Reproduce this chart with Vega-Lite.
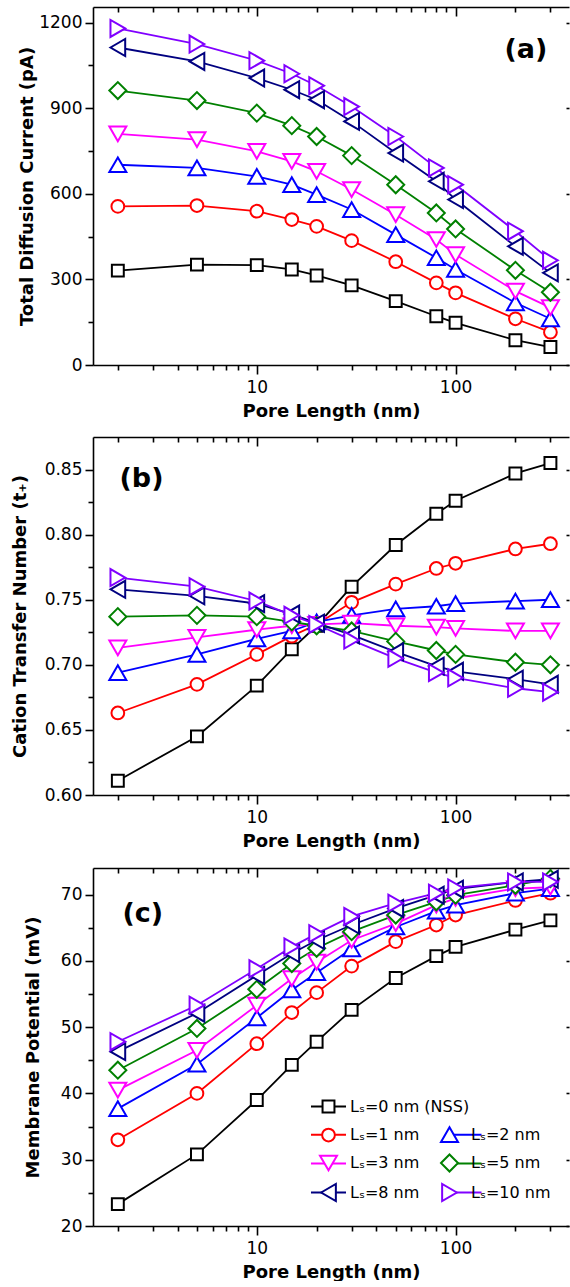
{
  "$schema": "https://vega.github.io/schema/vega-lite/v6.json",
  "background": "white",
  "padding": {"left": 11, "top": 6, "right": 0, "bottom": 0},
  "spacing": 16,
  "data": {"values": [
    {"series":"Lₛ=0 nm (NSS)","L":2,"a":331,"b":0.611,"c":23.3},
    {"series":"Lₛ=0 nm (NSS)","L":5,"a":352,"b":0.645,"c":30.8},
    {"series":"Lₛ=0 nm (NSS)","L":10,"a":350,"b":0.684,"c":39.0},
    {"series":"Lₛ=0 nm (NSS)","L":15,"a":335,"b":0.712,"c":44.3},
    {"series":"Lₛ=0 nm (NSS)","L":20,"a":314,"b":0.730,"c":47.8},
    {"series":"Lₛ=0 nm (NSS)","L":30,"a":279,"b":0.760,"c":52.6},
    {"series":"Lₛ=0 nm (NSS)","L":50,"a":224,"b":0.792,"c":57.4},
    {"series":"Lₛ=0 nm (NSS)","L":80,"a":171,"b":0.816,"c":60.7},
    {"series":"Lₛ=0 nm (NSS)","L":100,"a":148,"b":0.826,"c":62.1},
    {"series":"Lₛ=0 nm (NSS)","L":200,"a":87,"b":0.847,"c":64.7},
    {"series":"Lₛ=0 nm (NSS)","L":300,"a":63,"b":0.855,"c":66.1},
    {"series":"Lₛ=1 nm","L":2,"a":556,"b":0.663,"c":33.0},
    {"series":"Lₛ=1 nm","L":5,"a":559,"b":0.685,"c":40.0},
    {"series":"Lₛ=1 nm","L":10,"a":539,"b":0.708,"c":47.5},
    {"series":"Lₛ=1 nm","L":15,"a":510,"b":0.722,"c":52.2},
    {"series":"Lₛ=1 nm","L":20,"a":486,"b":0.731,"c":55.2},
    {"series":"Lₛ=1 nm","L":30,"a":436,"b":0.748,"c":59.2},
    {"series":"Lₛ=1 nm","L":50,"a":362,"b":0.762,"c":62.9},
    {"series":"Lₛ=1 nm","L":80,"a":288,"b":0.774,"c":65.4},
    {"series":"Lₛ=1 nm","L":100,"a":253,"b":0.778,"c":66.9},
    {"series":"Lₛ=1 nm","L":200,"a":162,"b":0.789,"c":69.1},
    {"series":"Lₛ=1 nm","L":300,"a":115,"b":0.793,"c":70.2},
    {"series":"Lₛ=2 nm","L":2,"a":702,"b":0.694,"c":37.7},
    {"series":"Lₛ=2 nm","L":5,"a":691,"b":0.708,"c":44.4},
    {"series":"Lₛ=2 nm","L":10,"a":661,"b":0.720,"c":51.4},
    {"series":"Lₛ=2 nm","L":15,"a":632,"b":0.726,"c":55.6},
    {"series":"Lₛ=2 nm","L":20,"a":597,"b":0.733,"c":58.2},
    {"series":"Lₛ=2 nm","L":30,"a":545,"b":0.738,"c":61.8},
    {"series":"Lₛ=2 nm","L":50,"a":457,"b":0.743,"c":65.1},
    {"series":"Lₛ=2 nm","L":80,"a":376,"b":0.745,"c":67.5},
    {"series":"Lₛ=2 nm","L":100,"a":335,"b":0.747,"c":68.4},
    {"series":"Lₛ=2 nm","L":200,"a":218,"b":0.749,"c":70.2},
    {"series":"Lₛ=2 nm","L":300,"a":162,"b":0.750,"c":70.9},
    {"series":"Lₛ=3 nm","L":2,"a":810,"b":0.713,"c":40.5},
    {"series":"Lₛ=3 nm","L":5,"a":790,"b":0.721,"c":46.5},
    {"series":"Lₛ=3 nm","L":10,"a":749,"b":0.727,"c":53.3},
    {"series":"Lₛ=3 nm","L":15,"a":714,"b":0.730,"c":57.3},
    {"series":"Lₛ=3 nm","L":20,"a":679,"b":0.731,"c":59.8},
    {"series":"Lₛ=3 nm","L":30,"a":615,"b":0.732,"c":63.1},
    {"series":"Lₛ=3 nm","L":50,"a":527,"b":0.730,"c":65.6},
    {"series":"Lₛ=3 nm","L":80,"a":440,"b":0.729,"c":68.4},
    {"series":"Lₛ=3 nm","L":100,"a":387,"b":0.728,"c":69.4},
    {"series":"Lₛ=3 nm","L":200,"a":259,"b":0.726,"c":70.9},
    {"series":"Lₛ=3 nm","L":300,"a":201,"b":0.726,"c":71.1},
    {"series":"Lₛ=5 nm","L":2,"a":962,"b":0.737,"c":43.5},
    {"series":"Lₛ=5 nm","L":5,"a":927,"b":0.738,"c":49.8},
    {"series":"Lₛ=5 nm","L":10,"a":883,"b":0.737,"c":55.7},
    {"series":"Lₛ=5 nm","L":15,"a":839,"b":0.733,"c":59.6},
    {"series":"Lₛ=5 nm","L":20,"a":801,"b":0.730,"c":61.9},
    {"series":"Lₛ=5 nm","L":30,"a":734,"b":0.726,"c":64.4},
    {"series":"Lₛ=5 nm","L":50,"a":632,"b":0.718,"c":66.9},
    {"series":"Lₛ=5 nm","L":80,"a":533,"b":0.711,"c":68.9},
    {"series":"Lₛ=5 nm","L":100,"a":477,"b":0.708,"c":69.9},
    {"series":"Lₛ=5 nm","L":200,"a":332,"b":0.702,"c":71.4},
    {"series":"Lₛ=5 nm","L":300,"a":255,"b":0.700,"c":72.4},
    {"series":"Lₛ=8 nm","L":2,"a":1113,"b":0.758,"c":46.3},
    {"series":"Lₛ=8 nm","L":5,"a":1064,"b":0.753,"c":52.1},
    {"series":"Lₛ=8 nm","L":10,"a":1006,"b":0.747,"c":57.8},
    {"series":"Lₛ=8 nm","L":15,"a":965,"b":0.739,"c":61.1},
    {"series":"Lₛ=8 nm","L":20,"a":930,"b":0.732,"c":63.1},
    {"series":"Lₛ=8 nm","L":30,"a":854,"b":0.723,"c":65.4},
    {"series":"Lₛ=8 nm","L":50,"a":743,"b":0.710,"c":67.9},
    {"series":"Lₛ=8 nm","L":80,"a":644,"b":0.699,"c":69.9},
    {"series":"Lₛ=8 nm","L":100,"a":580,"b":0.695,"c":70.8},
    {"series":"Lₛ=8 nm","L":200,"a":416,"b":0.689,"c":71.9},
    {"series":"Lₛ=8 nm","L":300,"a":323,"b":0.685,"c":72.3},
    {"series":"Lₛ=10 nm","L":2,"a":1180,"b":0.767,"c":47.8},
    {"series":"Lₛ=10 nm","L":5,"a":1125,"b":0.760,"c":53.3},
    {"series":"Lₛ=10 nm","L":10,"a":1067,"b":0.749,"c":58.8},
    {"series":"Lₛ=10 nm","L":15,"a":1021,"b":0.738,"c":62.1},
    {"series":"Lₛ=10 nm","L":20,"a":979,"b":0.731,"c":64.1},
    {"series":"Lₛ=10 nm","L":30,"a":906,"b":0.719,"c":66.7},
    {"series":"Lₛ=10 nm","L":50,"a":801,"b":0.705,"c":68.7},
    {"series":"Lₛ=10 nm","L":80,"a":691,"b":0.694,"c":70.2},
    {"series":"Lₛ=10 nm","L":100,"a":632,"b":0.690,"c":71.0},
    {"series":"Lₛ=10 nm","L":200,"a":469,"b":0.682,"c":71.9},
    {"series":"Lₛ=10 nm","L":300,"a":367,"b":0.679,"c":71.9}
  ]},
  "vconcat": [
    {
      "width": 476, "height": 358,
      "layer": [
        {
          "mark": {"type": "line", "strokeWidth": 1.8},
          "encoding": {
            "x": {"field": "L", "type": "quantitative", "scale": {"type": "log", "domain": [1.5, 372], "nice": false},
              "axis": {"values": [2,3,4,5,6,7,8,9,10,20,30,40,50,60,70,80,90,100,200,300], "labelExpr": "datum.value == 10 || datum.value == 100 ? format(datum.value, 'd') : ''", "tickSize": {"condition": {"test": "datum.value == 10 || datum.value == 100", "value": 9}, "value": 5}, "labelPadding": 5, "title": "Pore Length (nm)", "titlePadding": 7}},
            "y": {"field": "a", "type": "quantitative", "scale": {"domain": [0, 1255], "nice": false, "zero": false},
              "axis": {"values": [0,150,300,450,600,750,900,1050,1200], "format": "d", "labelExpr": "datum.value % 300 == 0 ? datum.label : ''", "tickSize": {"condition": {"test": "datum.value % 300 == 0", "value": 8}, "value": 5}, "title": "Total Diffusion Current (pA)", "titlePadding": 2}},
            "color": {"field": "series", "type": "nominal", "scale": {"domain": ["Lₛ=0 nm (NSS)","Lₛ=1 nm","Lₛ=2 nm","Lₛ=3 nm","Lₛ=5 nm","Lₛ=8 nm","Lₛ=10 nm"], "range": ["#000000","#FF0000","#0000FF","#FF00FF","#008000","#000080","#8000FF"]}, "legend": null}
          }
        },
        {
          "mark": {"type": "point", "filled": true, "fill": "white", "strokeWidth": 2, "size": 289, "opacity": 1},
          "encoding": {
            "x": {"field": "L", "type": "quantitative", "scale": {"type": "log", "domain": [1.5, 372], "nice": false},
              "axis": {"orient": "top", "values": [2,3,4,5,6,7,8,9,10,20,30,40,50,60,70,80,90,100,200,300], "labels": false, "title": null, "tickSize": {"condition": {"test": "datum.value == 10 || datum.value == 100", "value": -9}, "value": -5}}},
            "y": {"field": "a", "type": "quantitative", "scale": {"domain": [0, 1255], "nice": false, "zero": false},
              "axis": {"orient": "right", "values": [0,300,600,900,1200], "labels": false, "domain": false, "title": null, "tickSize": -3}},
            "stroke": {"field": "series", "type": "nominal", "scale": {"domain": ["Lₛ=0 nm (NSS)","Lₛ=1 nm","Lₛ=2 nm","Lₛ=3 nm","Lₛ=5 nm","Lₛ=8 nm","Lₛ=10 nm"], "range": ["#000000","#FF0000","#0000FF","#FF00FF","#008000","#000080","#8000FF"]}, "legend": null},
            "shape": {"field": "series", "type": "nominal", "scale": {"domain": ["Lₛ=0 nm (NSS)","Lₛ=1 nm","Lₛ=2 nm","Lₛ=3 nm","Lₛ=5 nm","Lₛ=8 nm","Lₛ=10 nm"], "range": ["M-0.7,-0.7H0.7V0.7H-0.7Z","M-0.75,0A0.75,0.75,0,1,1,0.75,0A0.75,0.75,0,1,1,-0.75,0Z","triangle-up","triangle-down","diamond","triangle-left","triangle-right"]}, "legend": null}
          }
        },
        {
          "data": {"values": [{"t": "(a)"}]},
          "mark": {"type": "text", "font": "DejaVu Sans", "fontWeight": "bold", "fontSize": 27, "align": "center", "baseline": "middle", "color": "#000"},
          "encoding": {
            "x": {"datum": 226, "type": "quantitative", "scale": {"type": "log", "domain": [1.5, 372], "nice": false}, "axis": null},
            "y": {"datum": 1105, "type": "quantitative", "scale": {"domain": [0, 1255], "nice": false, "zero": false}, "axis": null},
            "text": {"field": "t"}
          }
        }
      ],
      "resolve": {"axis": {"x": "independent", "y": "independent"}}
    },
    {
      "width": 476, "height": 358,
      "layer": [
        {
          "mark": {"type": "line", "strokeWidth": 1.8},
          "encoding": {
            "x": {"field": "L", "type": "quantitative", "scale": {"type": "log", "domain": [1.5, 372], "nice": false},
              "axis": {"values": [2,3,4,5,6,7,8,9,10,20,30,40,50,60,70,80,90,100,200,300], "labelExpr": "datum.value == 10 || datum.value == 100 ? format(datum.value, 'd') : ''", "tickSize": {"condition": {"test": "datum.value == 10 || datum.value == 100", "value": 9}, "value": 5}, "labelPadding": 5, "title": "Pore Length (nm)", "titlePadding": 7}},
            "y": {"field": "b", "type": "quantitative", "scale": {"domain": [0.6, 0.875], "nice": false, "zero": false},
              "axis": {"values": [0.6,0.625,0.65,0.675,0.7,0.725,0.75,0.775,0.8,0.825,0.85], "format": ".2f", "labelExpr": "round(datum.value*1000) % 50 == 0 ? datum.label : ''", "tickSize": {"condition": {"test": "round(datum.value*1000) % 50 == 0", "value": 8}, "value": 5}, "title": "Cation Transfer Number (t₊)", "titlePadding": 15}},
            "color": {"field": "series", "type": "nominal", "scale": {"domain": ["Lₛ=0 nm (NSS)","Lₛ=1 nm","Lₛ=2 nm","Lₛ=3 nm","Lₛ=5 nm","Lₛ=8 nm","Lₛ=10 nm"], "range": ["#000000","#FF0000","#0000FF","#FF00FF","#008000","#000080","#8000FF"]}, "legend": null}
          }
        },
        {
          "mark": {"type": "point", "filled": true, "fill": "white", "strokeWidth": 2, "size": 289, "opacity": 1},
          "encoding": {
            "x": {"field": "L", "type": "quantitative", "scale": {"type": "log", "domain": [1.5, 372], "nice": false},
              "axis": {"orient": "top", "values": [2,3,4,5,6,7,8,9,10,20,30,40,50,60,70,80,90,100,200,300], "labels": false, "title": null, "tickSize": {"condition": {"test": "datum.value == 10 || datum.value == 100", "value": -9}, "value": -5}}},
            "y": {"field": "b", "type": "quantitative", "scale": {"domain": [0.6, 0.875], "nice": false, "zero": false},
              "axis": {"orient": "right", "values": [0.6,0.65,0.7,0.75,0.8,0.85], "labels": false, "domain": false, "title": null, "tickSize": -3}},
            "stroke": {"field": "series", "type": "nominal", "scale": {"domain": ["Lₛ=0 nm (NSS)","Lₛ=1 nm","Lₛ=2 nm","Lₛ=3 nm","Lₛ=5 nm","Lₛ=8 nm","Lₛ=10 nm"], "range": ["#000000","#FF0000","#0000FF","#FF00FF","#008000","#000080","#8000FF"]}, "legend": null},
            "shape": {"field": "series", "type": "nominal", "scale": {"domain": ["Lₛ=0 nm (NSS)","Lₛ=1 nm","Lₛ=2 nm","Lₛ=3 nm","Lₛ=5 nm","Lₛ=8 nm","Lₛ=10 nm"], "range": ["M-0.7,-0.7H0.7V0.7H-0.7Z","M-0.75,0A0.75,0.75,0,1,1,0.75,0A0.75,0.75,0,1,1,-0.75,0Z","triangle-up","triangle-down","diamond","triangle-left","triangle-right"]}, "legend": null}
          }
        },
        {
          "data": {"values": [{"t": "(b)"}]},
          "mark": {"type": "text", "font": "DejaVu Sans", "fontWeight": "bold", "fontSize": 27, "align": "center", "baseline": "middle", "color": "#000"},
          "encoding": {
            "x": {"datum": 2.63, "type": "quantitative", "scale": {"type": "log", "domain": [1.5, 372], "nice": false}, "axis": null},
            "y": {"datum": 0.8428, "type": "quantitative", "scale": {"domain": [0.6, 0.875], "nice": false, "zero": false}, "axis": null},
            "text": {"field": "t"}
          }
        }
      ],
      "resolve": {"axis": {"x": "independent", "y": "independent"}}
    },
    {
      "width": 476, "height": 358,
      "layer": [
        {
          "transform": [{"filter": {"field": "series", "equal": "Lₛ=0 nm (NSS)"}}],
          "mark": {"type": "line", "strokeWidth": 1.8},
          "encoding": {
            "x": {"field": "L", "type": "quantitative", "scale": {"type": "log", "domain": [1.5, 372], "nice": false}, "axis": null},
            "y": {"field": "c", "type": "quantitative", "scale": {"domain": [20, 74], "nice": false, "zero": false}, "axis": null},
            "color": {"field": "series", "type": "nominal", "scale": {"domain": ["Lₛ=0 nm (NSS)"], "range": ["#000000"]},
              "legend": {"orient": "none", "legendX": 226, "legendY": 229, "title": null, "padding": 0, "labelFontSize": 16, "labelExpr": "''", "labelOffset": 12, "symbolType": "M-2.06,0H2.06", "symbolSize": 289, "symbolStrokeWidth": 2}}
          }
        },
        {
          "transform": [{"filter": {"not": {"field": "series", "equal": "Lₛ=0 nm (NSS)"}}}],
          "mark": {"type": "line", "strokeWidth": 1.8},
          "encoding": {
            "x": {"field": "L", "type": "quantitative", "scale": {"type": "log", "domain": [1.5, 372], "nice": false},
              "axis": {"values": [2,3,4,5,6,7,8,9,10,20,30,40,50,60,70,80,90,100,200,300], "labelExpr": "datum.value == 10 || datum.value == 100 ? format(datum.value, 'd') : ''", "tickSize": {"condition": {"test": "datum.value == 10 || datum.value == 100", "value": 9}, "value": 5}, "labelPadding": 5, "title": "Pore Length (nm)", "titlePadding": 7}},
            "y": {"field": "c", "type": "quantitative", "scale": {"domain": [20, 74], "nice": false, "zero": false},
              "axis": {"values": [20,25,30,35,40,45,50,55,60,65,70], "format": "d", "labelExpr": "datum.value % 10 == 0 ? datum.label : ''", "tickSize": {"condition": {"test": "datum.value % 10 == 0", "value": 8}, "value": 5}, "title": "Membrane Potential (mV)", "titlePadding": 18}},
            "color": {"field": "series", "type": "nominal", "scale": {"domain": ["Lₛ=1 nm","Lₛ=2 nm","Lₛ=3 nm","Lₛ=5 nm","Lₛ=8 nm","Lₛ=10 nm"], "range": ["#FF0000","#0000FF","#FF00FF","#008000","#000080","#8000FF"]},
              "legend": {"orient": "none", "direction": "horizontal", "legendX": 226, "legendY": 257, "title": null, "padding": 0, "columns": 2, "columnPadding": 90.5, "rowPadding": 11, "labelFontSize": 16, "labelExpr": "''", "labelOffset": 12, "symbolType": "M-2.06,0H2.06", "symbolSize": 289, "symbolStrokeWidth": 2}}
          }
        },
        {
          "transform": [{"filter": {"field": "series", "equal": "Lₛ=0 nm (NSS)"}}],
          "mark": {"type": "point", "filled": true, "fill": "white", "strokeWidth": 2, "size": 289, "opacity": 1},
          "encoding": {
            "x": {"field": "L", "type": "quantitative", "scale": {"type": "log", "domain": [1.5, 372], "nice": false}, "axis": null},
            "y": {"field": "c", "type": "quantitative", "scale": {"domain": [20, 74], "nice": false, "zero": false}, "axis": null},
            "stroke": {"field": "series", "type": "nominal", "scale": {"domain": ["Lₛ=0 nm (NSS)"], "range": ["#000000"]},
              "legend": {"orient": "none", "legendX": 226, "legendY": 229, "title": null, "padding": 0, "labelFontSize": 16, "labelColor": "#000", "labelOffset": 12, "symbolSize": 289, "symbolStrokeWidth": 2, "symbolFillColor": "white"}},
            "shape": {"field": "series", "type": "nominal", "scale": {"domain": ["Lₛ=0 nm (NSS)"], "range": ["M-0.7,-0.7H0.7V0.7H-0.7Z"]},
              "legend": {"orient": "none", "legendX": 226, "legendY": 229, "title": null, "padding": 0, "labelFontSize": 16, "labelColor": "#000", "labelOffset": 12, "symbolSize": 289, "symbolStrokeWidth": 2, "symbolFillColor": "white"}}
          }
        },
        {
          "transform": [{"filter": {"not": {"field": "series", "equal": "Lₛ=0 nm (NSS)"}}}],
          "mark": {"type": "point", "filled": true, "fill": "white", "strokeWidth": 2, "size": 289, "opacity": 1},
          "encoding": {
            "x": {"field": "L", "type": "quantitative", "scale": {"type": "log", "domain": [1.5, 372], "nice": false},
              "axis": {"orient": "top", "values": [2,3,4,5,6,7,8,9,10,20,30,40,50,60,70,80,90,100,200,300], "labels": false, "title": null, "tickSize": {"condition": {"test": "datum.value == 10 || datum.value == 100", "value": -9}, "value": -5}}},
            "y": {"field": "c", "type": "quantitative", "scale": {"domain": [20, 74], "nice": false, "zero": false},
              "axis": {"orient": "right", "values": [20,30,40,50,60,70], "labels": false, "domain": false, "title": null, "tickSize": -3}},
            "stroke": {"field": "series", "type": "nominal", "scale": {"domain": ["Lₛ=1 nm","Lₛ=2 nm","Lₛ=3 nm","Lₛ=5 nm","Lₛ=8 nm","Lₛ=10 nm"], "range": ["#FF0000","#0000FF","#FF00FF","#008000","#000080","#8000FF"]},
              "legend": {"orient": "none", "direction": "horizontal", "legendX": 226, "legendY": 257, "title": null, "padding": 0, "columns": 2, "columnPadding": 17, "rowPadding": 4.5, "labelFontSize": 16, "labelColor": "#000", "labelOffset": 12, "symbolSize": 289, "symbolStrokeWidth": 2, "symbolFillColor": "white"}},
            "shape": {"field": "series", "type": "nominal", "scale": {"domain": ["Lₛ=1 nm","Lₛ=2 nm","Lₛ=3 nm","Lₛ=5 nm","Lₛ=8 nm","Lₛ=10 nm"], "range": ["M-0.75,0A0.75,0.75,0,1,1,0.75,0A0.75,0.75,0,1,1,-0.75,0Z","triangle-up","triangle-down","diamond","triangle-left","triangle-right"]},
              "legend": {"orient": "none", "direction": "horizontal", "legendX": 226, "legendY": 257, "title": null, "padding": 0, "columns": 2, "columnPadding": 17, "rowPadding": 4.5, "labelFontSize": 16, "labelColor": "#000", "labelOffset": 12, "symbolSize": 289, "symbolStrokeWidth": 2, "symbolFillColor": "white"}}
          }
        },
        {
          "data": {"values": [{"t": "(c)"}]},
          "mark": {"type": "text", "font": "DejaVu Sans", "fontWeight": "bold", "fontSize": 27, "align": "center", "baseline": "middle", "color": "#000"},
          "encoding": {
            "x": {"datum": 2.67, "type": "quantitative", "scale": {"type": "log", "domain": [1.5, 372], "nice": false}, "axis": null},
            "y": {"datum": 67.0, "type": "quantitative", "scale": {"domain": [20, 74], "nice": false, "zero": false}, "axis": null},
            "text": {"field": "t"}
          }
        }
      ],
      "resolve": {"scale": {"color": "independent", "stroke": "independent", "shape": "independent"}, "axis": {"x": "independent", "y": "independent"}}
    }
  ],
  "config": {
    "font": "DejaVu Sans",
    "view": {"stroke": null},
    "axis": {"grid": false, "domainColor": "#000", "domainWidth": 1.6, "tickColor": "#000", "tickWidth": 1.6, "labelColor": "#000", "labelFont": "DejaVu Sans", "labelFontSize": 17, "labelPadding": 3, "titleColor": "#000", "titleFont": "DejaVu Sans", "titleFontSize": 18, "titleFontWeight": "bold", "labelFlush": false, "labelOverlap": false},
    "legend": {"labelFont": "DejaVu Sans", "labelColor": "#000"}
  }
}
